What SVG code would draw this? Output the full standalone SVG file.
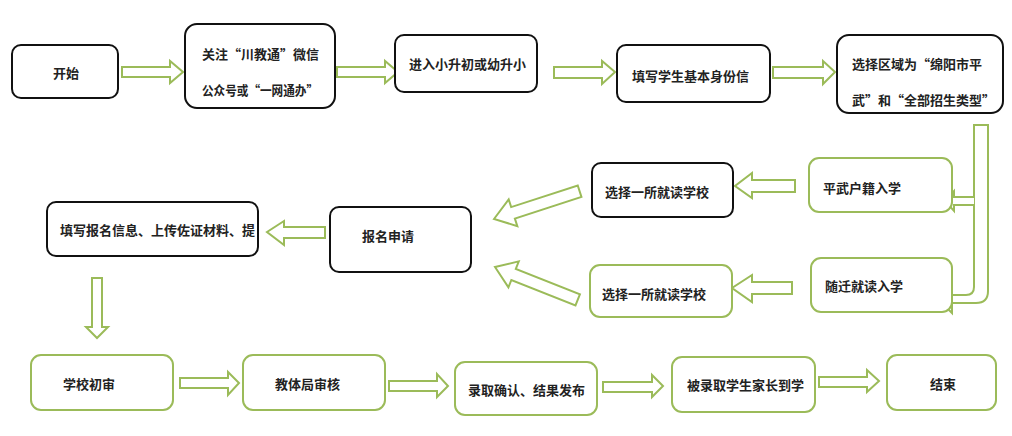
<svg xmlns="http://www.w3.org/2000/svg" width="1012" height="436" viewBox="0 0 1012 436">
<style>
.bk{fill:#fff;stroke:#111;stroke-width:2}
.gn{fill:#fff;stroke:#9bbb59;stroke-width:2}
.ar{fill:#fff;stroke:#9bbb59;stroke-width:2;stroke-linejoin:miter}
text{font-family:"Noto Sans CJK SC","Noto Sans",sans-serif;font-size:13px;font-weight:bold;fill:#222;dominant-baseline:central}
</style>
<defs>
<path id="ra" d="M0,-5 H48 V-11 L61,0 L48,11 V5 H0 Z"/>
</defs>
<rect width="1012" height="436" fill="#fff"/>
<g id="connectors">
<use href="#ra" class="ar" x="122" y="72"/>
<use href="#ra" class="ar" x="337" y="72"/>
<path class="ar" d="M554,67 H602 V61 L615,72 L602,84 V78 H554 Z"/>
<path class="ar" d="M773,67 H823 V61 L835,72 L823,84 V78 H773 Z"/>
<path class="ar" d="M974,125 H988 V291 Q988,303 976,303 H952 V313 L938,299 L952,286 V295 H966 Q974,295 974,287 Z"/>
<path class="ar" d="M974,197 H954 V191 L945,201 L954,211 V205 H974"/>
<path class="ar" d="M795,180 H752 V173 L735,186 L752,198 V192 H795 Z"/>
<path class="ar" d="M792,282 H752 V275 L732,288 L752,302 V294 H792 Z"/>
<path class="ar" transform="translate(494,219) rotate(-18)" d="M0,0 L20,-14 V-6 H90 V6 H20 V14 Z"/>
<path class="ar" transform="translate(495,267) rotate(21.7)" d="M0,0 L20,-14 V-6 H89 V6 H20 V14 Z"/>
<path class="ar" d="M325,227 H284 V221 L267,232 L284,245 V238 H325 Z"/>
<path class="ar" d="M92,278 H102 V327 H108 L97,338 L86,327 H92 Z"/>
<path class="ar" d="M180,378 H228 V372 L239,383 L228,395 V388 H180 Z"/>
<path class="ar" d="M389,381 H437 V374 L448,386 L437,397 V391 H389 Z"/>
<path class="ar" d="M603,382 H652 V375 L663,386 L652,397 V392 H603 Z"/>
<path class="ar" d="M819,377 H867 V370 L879,381 L867,392 V387 H819 Z"/>
</g>
<g id="n1"><rect class="bk" x="12" y="45" width="106" height="53" rx="9"/><text x="53" y="72">开始</text></g>
<g id="n2"><rect class="bk" x="185" y="24" width="150" height="84" rx="12"/><text x="202" y="53">关注“川教通”微信</text><text x="202" y="89" textLength="116" lengthAdjust="spacingAndGlyphs">公众号或“一网通办”</text></g>
<g id="n3"><rect class="bk" x="395" y="35" width="142" height="57" rx="9"/><text x="409" y="63">进入小升初或幼升小</text></g>
<g id="n4"><rect class="bk" x="617" y="45" width="153" height="57" rx="9"/><text x="632" y="75">填写学生基本身份信</text></g>
<g id="n5"><rect class="bk" x="837" y="35" width="166" height="78" rx="12"/><text x="852" y="63">选择区域为“绵阳市平</text><text x="852" y="99">武”和“全部招生类型”</text></g>
<g id="n6"><rect class="gn" x="809" y="158" width="143" height="54" rx="10"/><text x="823" y="187">平武户籍入学</text></g>
<g id="n7"><rect class="gn" x="811" y="258" width="141" height="54" rx="10"/><text x="825" y="285">随迁就读入学</text></g>
<g id="n8"><rect class="bk" x="592" y="163" width="141" height="54" rx="9"/><text x="605" y="191">选择一所就读学校</text></g>
<g id="n9"><rect class="gn" x="590" y="265" width="142" height="52" rx="10"/><text x="602" y="293">选择一所就读学校</text></g>
<g id="n10"><rect class="bk" x="330" y="207" width="141" height="65" rx="9"/><text x="362" y="235">报名申请</text></g>
<g id="n11"><rect class="bk" x="47" y="202" width="211" height="54" rx="9"/><text x="60" y="229">填写报名信息、上传佐证材料、提</text></g>
<g id="n12"><rect class="gn" x="31" y="355" width="142" height="55" rx="10"/><text x="63" y="383">学校初审</text></g>
<g id="n13"><rect class="gn" x="243" y="355" width="142" height="55" rx="10"/><text x="275" y="383">教体局审核</text></g>
<g id="n14"><rect class="gn" x="455" y="362" width="142" height="53" rx="10"/><text x="468" y="389">录取确认、结果发布</text></g>
<g id="n15"><rect class="gn" x="672" y="357" width="143" height="55" rx="10"/><text x="687" y="384">被录取学生家长到学</text></g>
<g id="n16"><rect class="gn" x="887" y="355" width="109" height="55" rx="10"/><text x="930" y="383">结束</text></g>
</svg>
